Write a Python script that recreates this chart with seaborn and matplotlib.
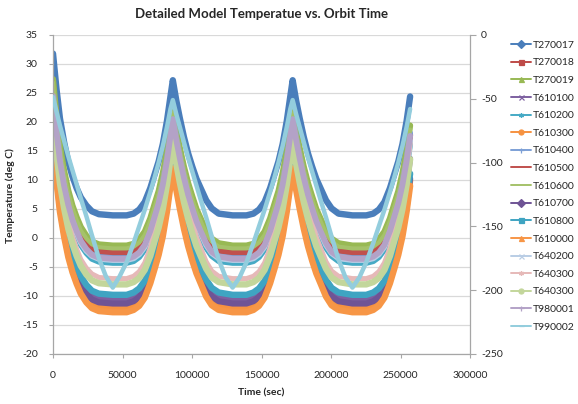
import matplotlib
matplotlib.use("Agg")
import matplotlib.pyplot as plt
from matplotlib.lines import Line2D
import seaborn as sns

# ---------------- data ----------------
time_sec = [0, 2500, 5000, 8000, 11000, 14000, 17000, 20000, 24000, 28000, 33000, 43000, 53000,
            58000, 62000, 66000, 70000, 73000, 76000, 79000, 82000, 84500,
            86200, 88700, 91200, 94200, 97200, 100200, 103200, 106200, 110200, 114200, 119200, 129200, 139200,
            144200, 148200, 152200, 156200, 159200, 162200, 165200, 168200, 170700,
            172400, 174900, 177400, 180400, 183400, 186400, 189400, 192400, 196400, 200400, 205400, 215400, 225400,
            230400, 234400, 238400, 242400, 245400, 248400, 251400, 254400, 256900]

T270017 = [31.8, 25.7, 20.6, 16.5, 13.1, 10.6, 8.6, 7.0, 5.6, 4.6, 4.1, 3.9, 3.9,
           4.2, 4.9, 6.2, 8.6, 10.9, 13.2, 16.2, 20.2, 24.4,
           27.2, 23.7, 20.7, 17.4, 14.6, 12.3, 10.2, 8.6, 6.5, 5.1, 4.2, 3.9, 3.9,
           4.2, 4.9, 6.2, 8.6, 10.9, 13.2, 16.2, 20.2, 24.4,
           27.2, 23.7, 20.7, 17.4, 14.6, 12.3, 10.2, 8.6, 6.5, 5.1, 4.2, 3.9, 3.9,
           4.2, 4.9, 6.2, 8.6, 10.9, 13.2, 16.2, 20.2, 24.4]
T270018 = [26.5, 20.2, 15.0, 10.7, 7.3, 4.7, 2.7, 1.0, -0.5, -1.5, -2.0, -2.2, -2.2,
           -1.9, -1.2, 0.1, 2.3, 4.6, 6.9, 9.8, 13.7, 17.8,
           20.5, 17.1, 14.1, 11.0, 8.2, 6.0, 3.9, 2.3, 0.3, -1.1, -1.9, -2.2, -2.2,
           -1.9, -1.2, 0.1, 2.3, 4.6, 6.9, 9.8, 13.7, 17.8,
           20.5, 17.1, 14.1, 11.0, 8.2, 6.0, 3.9, 2.3, 0.3, -1.1, -1.9, -2.2, -2.2,
           -1.9, -1.2, 0.1, 2.3, 4.6, 6.9, 9.8, 13.7, 17.8]
T270019 = [27.4, 21.1, 15.9, 11.6, 8.2, 5.6, 3.6, 1.9, 0.4, -0.6, -1.1, -1.3, -1.3,
           -1.0, -0.2, 1.1, 3.4, 5.8, 8.1, 11.2, 15.2, 19.4,
           22.2, 18.7, 15.6, 12.3, 9.5, 7.2, 5.0, 3.4, 1.3, -0.1, -0.9, -1.3, -1.3,
           -1.0, -0.2, 1.1, 3.4, 5.8, 8.1, 11.2, 15.2, 19.4,
           22.2, 18.7, 15.6, 12.3, 9.5, 7.2, 5.0, 3.4, 1.3, -0.1, -0.9, -1.3, -1.3,
           -1.0, -0.2, 1.1, 3.4, 5.8, 8.1, 11.2, 15.2, 19.4]
T610100 = [22.0, 14.8, 9.0, 4.1, 0.2, -2.8, -5.1, -7.0, -8.6, -9.8, -10.3, -10.6, -10.6,
           -10.2, -9.4, -7.8, -5.1, -2.3, 0.4, 4.0, 8.7, 13.7,
           17.0, 12.9, 9.3, 5.4, 2.1, -0.7, -3.1, -5.1, -7.6, -9.2, -10.2, -10.6, -10.6,
           -10.2, -9.4, -7.8, -5.1, -2.3, 0.4, 4.0, 8.7, 13.7,
           17.0, 12.9, 9.3, 5.4, 2.1, -0.7, -3.1, -5.1, -7.6, -9.2, -10.2, -10.6, -10.6,
           -10.2, -9.4, -7.8, -5.1, -2.3, 0.4, 4.0, 8.7, 13.7]
T610200 = [24.0, 17.8, 12.7, 8.4, 5.0, 2.5, 0.5, -1.2, -2.6, -3.6, -4.1, -4.3, -4.3,
           -4.0, -3.3, -2.0, 0.4, 2.7, 5.0, 8.0, 12.0, 16.2,
           19.0, 15.5, 12.5, 9.2, 6.4, 4.1, 2.0, 0.4, -1.7, -3.1, -4.0, -4.3, -4.3,
           -4.0, -3.3, -2.0, 0.4, 2.7, 5.0, 8.0, 12.0, 16.2,
           19.0, 15.5, 12.5, 9.2, 6.4, 4.1, 2.0, 0.4, -1.7, -3.1, -4.0, -4.3, -4.3,
           -4.0, -3.3, -2.0, 0.4, 2.7, 5.0, 8.0, 12.0, 16.2]
T610300 = [17.0, 10.6, 5.3, 0.9, -2.6, -5.2, -7.2, -9.0, -10.4, -11.5, -12.0, -12.2, -12.2,
           -11.8, -11.1, -9.7, -7.2, -4.6, -2.1, 1.2, 5.4, 10.0,
           13.0, 9.2, 5.9, 2.4, -0.6, -3.1, -5.4, -7.2, -9.4, -10.9, -11.8, -12.2, -12.2,
           -11.8, -11.1, -9.7, -7.2, -4.6, -2.1, 1.2, 5.4, 10.0,
           13.0, 9.2, 5.9, 2.4, -0.6, -3.1, -5.4, -7.2, -9.4, -10.9, -11.8, -12.2, -12.2,
           -11.8, -11.1, -9.7, -7.2, -4.6, -2.1, 1.2, 5.4, 10.0]
T610400 = [25.2, 19.0, 14.0, 9.7, 6.4, 3.8, 1.9, 0.2, -1.2, -2.2, -2.7, -2.9, -2.9,
           -2.5, -1.8, -0.5, 1.9, 4.3, 6.7, 9.8, 13.8, 18.1,
           21.0, 17.4, 14.3, 11.0, 8.1, 5.7, 3.6, 1.9, -0.3, -1.7, -2.5, -2.9, -2.9,
           -2.5, -1.8, -0.5, 1.9, 4.3, 6.7, 9.8, 13.8, 18.1,
           21.0, 17.4, 14.3, 11.0, 8.1, 5.7, 3.6, 1.9, -0.3, -1.7, -2.5, -2.9, -2.9,
           -2.5, -1.8, -0.5, 1.9, 4.3, 6.7, 9.8, 13.8, 18.1]
T610500 = [25.8, 19.6, 14.4, 10.2, 6.8, 4.2, 2.2, 0.5, -0.9, -1.9, -2.4, -2.6, -2.6,
           -2.3, -1.6, -0.3, 1.9, 4.2, 6.4, 9.4, 13.2, 17.3,
           20.0, 16.6, 13.7, 10.5, 7.8, 5.5, 3.5, 1.9, -0.1, -1.5, -2.3, -2.6, -2.6,
           -2.3, -1.6, -0.3, 1.9, 4.2, 6.4, 9.4, 13.2, 17.3,
           20.0, 16.6, 13.7, 10.5, 7.8, 5.5, 3.5, 1.9, -0.1, -1.5, -2.3, -2.6, -2.6,
           -2.3, -1.6, -0.3, 1.9, 4.2, 6.4, 9.4, 13.2, 17.3]
T610600 = [26.8, 20.5, 15.4, 11.1, 7.6, 5.1, 3.1, 1.3, -0.1, -1.1, -1.6, -1.8, -1.8,
           -1.5, -0.8, 0.5, 2.9, 5.2, 7.5, 10.5, 14.5, 18.7,
           21.5, 18.0, 15.0, 11.7, 8.9, 6.6, 4.5, 2.9, 0.8, -0.6, -1.5, -1.8, -1.8,
           -1.5, -0.8, 0.5, 2.9, 5.2, 7.5, 10.5, 14.5, 18.7,
           21.5, 18.0, 15.0, 11.7, 8.9, 6.6, 4.5, 2.9, 0.8, -0.6, -1.5, -1.8, -1.8,
           -1.5, -0.8, 0.5, 2.9, 5.2, 7.5, 10.5, 14.5, 18.7]
T610700 = [17.3, 11.0, 5.9, 1.6, -1.9, -4.4, -6.4, -8.2, -9.6, -10.6, -11.1, -11.3, -11.3,
           -10.9, -10.2, -8.8, -6.4, -3.9, -1.5, 1.7, 5.9, 10.3,
           13.2, 9.5, 6.3, 2.9, 0.0, -2.5, -4.7, -6.4, -8.6, -10.1, -10.9, -11.3, -11.3,
           -10.9, -10.2, -8.8, -6.4, -3.9, -1.5, 1.7, 5.9, 10.3,
           13.2, 9.5, 6.3, 2.9, 0.0, -2.5, -4.7, -6.4, -8.6, -10.1, -10.9, -11.3, -11.3,
           -10.9, -10.2, -8.8, -6.4, -3.9, -1.5, 1.7, 5.9, 10.3]
T610800 = [19.2, 12.8, 7.6, 3.3, -0.2, -2.8, -4.9, -6.6, -8.1, -9.1, -9.6, -9.8, -9.8,
           -9.4, -8.7, -7.4, -5.0, -2.7, -0.3, 2.8, 6.9, 11.1,
           14.0, 10.4, 7.3, 4.0, 1.1, -1.2, -3.4, -5.0, -7.2, -8.6, -9.4, -9.8, -9.8,
           -9.4, -8.7, -7.4, -5.0, -2.7, -0.3, 2.8, 6.9, 11.1,
           14.0, 10.4, 7.3, 4.0, 1.1, -1.2, -3.4, -5.0, -7.2, -8.6, -9.4, -9.8, -9.8,
           -9.4, -8.7, -7.4, -5.0, -2.7, -0.3, 2.8, 6.9, 11.1]
T610000 = [16.0, 9.7, 4.5, 0.2, -3.3, -5.9, -7.9, -9.6, -11.1, -12.1, -12.6, -12.8, -12.8,
           -12.4, -11.7, -10.3, -7.8, -5.4, -2.9, 0.3, 4.6, 9.0,
           12.0, 8.3, 5.1, 1.6, -1.4, -3.9, -6.1, -7.8, -10.1, -11.6, -12.4, -12.8, -12.8,
           -12.4, -11.7, -10.3, -7.8, -5.4, -2.9, 0.3, 4.6, 9.0,
           12.0, 8.3, 5.1, 1.6, -1.4, -3.9, -6.1, -7.8, -10.1, -11.6, -12.4, -12.8, -12.8,
           -12.4, -11.7, -10.3, -7.8, -5.4, -2.9, 0.3, 4.6, 9.0]
T640200 = [23.5, 17.5, 12.6, 8.5, 5.2, 2.8, 0.8, -0.8, -2.2, -3.1, -3.6, -3.8, -3.8,
           -3.5, -2.8, -1.5, 0.9, 3.2, 5.5, 8.5, 12.5, 16.7,
           19.5, 16.0, 13.0, 9.7, 6.9, 4.6, 2.5, 0.9, -1.2, -2.6, -3.5, -3.8, -3.8,
           -3.5, -2.8, -1.5, 0.9, 3.2, 5.5, 8.5, 12.5, 16.7,
           19.5, 16.0, 13.0, 9.7, 6.9, 4.6, 2.5, 0.9, -1.2, -2.6, -3.5, -3.8, -3.8,
           -3.5, -2.8, -1.5, 0.9, 3.2, 5.5, 8.5, 12.5, 16.7]
T640300_a = [23.0, 16.4, 11.0, 6.5, 2.9, 0.2, -1.9, -3.7, -5.2, -6.2, -6.8, -7.0, -7.0,
             -6.6, -5.8, -4.3, -1.7, 1.0, 3.6, 7.0, 11.6, 16.3,
             19.5, 15.5, 12.1, 8.4, 5.2, 2.5, 0.2, -1.7, -4.1, -5.7, -6.6, -7.0, -7.0,
             -6.6, -5.8, -4.3, -1.7, 1.0, 3.6, 7.0, 11.6, 16.3,
             19.5, 15.5, 12.1, 8.4, 5.2, 2.5, 0.2, -1.7, -4.1, -5.7, -6.6, -7.0, -7.0,
             -6.6, -5.8, -4.3, -1.7, 1.0, 3.6, 7.0, 11.6, 16.3]
T640300_b = [21.0, 14.6, 9.4, 5.1, 1.6, -1.0, -3.1, -4.8, -6.3, -7.3, -7.8, -8.0, -8.0,
             -7.6, -6.9, -5.5, -3.1, -0.6, 1.8, 5.0, 9.2, 13.6,
             16.5, 12.8, 9.6, 6.2, 3.3, 0.8, -1.4, -3.1, -5.3, -6.8, -7.6, -8.0, -8.0,
             -7.6, -6.9, -5.5, -3.1, -0.6, 1.8, 5.0, 9.2, 13.6,
             16.5, 12.8, 9.6, 6.2, 3.3, 0.8, -1.4, -3.1, -5.3, -6.8, -7.6, -8.0, -8.0,
             -7.6, -6.9, -5.5, -3.1, -0.6, 1.8, 5.0, 9.2, 13.6]
T980001 = [24.5, 18.3, 13.3, 9.0, 5.7, 3.1, 1.2, -0.5, -1.9, -2.9, -3.4, -3.6, -3.6,
           -3.2, -2.5, -1.2, 1.2, 3.6, 6.0, 9.2, 13.3, 17.6,
           20.5, 16.9, 13.8, 10.4, 7.5, 5.1, 2.9, 1.2, -0.9, -2.4, -3.2, -3.6, -3.6,
           -3.2, -2.5, -1.2, 1.2, 3.6, 6.0, 9.2, 13.3, 17.6,
           20.5, 16.9, 13.8, 10.4, 7.5, 5.1, 2.9, 1.2, -0.9, -2.4, -3.2, -3.6, -3.6,
           -3.2, -2.5, -1.2, 1.2, 3.6, 6.0, 9.2, 13.3, 17.6]

# secondary (right) axis series, with its own sample times
time_sec_T990002 = [0, 2500, 5000, 8000, 11000, 14000, 17000, 20000, 24000, 28000, 33000, 38000, 43000,
                    48000, 53000, 58000, 62000, 66000, 70000, 73000, 76000, 79000, 82000, 84500,
                    86200, 88700, 91200, 94200, 97200, 100200, 103200, 106200, 110200, 114200, 119200,
                    124200, 129200, 134200, 139200, 144200, 148200, 152200, 156200, 159200, 162200,
                    165200, 168200, 170700,
                    172400, 174900, 177400, 180400, 183400, 186400, 189400, 192400, 196400, 200400,
                    205400, 210400, 215400, 220400, 225400, 230400, 234400, 238400, 242400, 245400,
                    248400, 251400, 254400, 256900]
T990002 = [-48.6, -60, -71, -83, -95, -106, -117, -128, -142, -157, -175, -189, -198,
           -189, -178, -163, -150, -137, -123, -112, -100, -87, -72, -58,
           -51, -62, -72, -84, -96, -107, -118, -129, -143, -158, -176,
           -190, -198, -190, -178, -163, -150, -137, -123, -112, -100,
           -87, -72, -58,
           -51, -62, -72, -84, -96, -107, -118, -129, -143, -158,
           -176, -190, -198, -190, -178, -163, -150, -137, -123, -112,
           -100, -87, -72, -58]

labels = ["T270017", "T270018", "T270019", "T610100", "T610200", "T610300", "T610400",
          "T610500", "T610600", "T610700", "T610800", "T610000", "T640200", "T640300",
          "T640300", "T980001", "T990002"]
primary_series = [T270017, T270018, T270019, T610100, T610200, T610300, T610400, T610500,
                  T610600, T610700, T610800, T610000, T640200, T640300_a, T640300_b, T980001]

y_ticks_left = [-20, -15, -10, -5, 0, 5, 10, 15, 20, 25, 30, 35]
y_ticks_right = [-250, -200, -150, -100, -50, 0]
x_ticks = [0, 50000, 100000, 150000, 200000, 250000, 300000]

# ---------------- style ----------------
colors = ["#4A7EBB", "#BE4B48", "#98B954", "#7D60A0", "#46AAC5", "#F69240", "#7DA0D6",
          "#C0504D", "#A5C26A", "#6F5495", "#3FA4C2", "#F79646", "#B9CDE5", "#E6B9B8",
          "#C3D69B", "#B3A2C7", "#93CDDD"]
markers = ["D", "s", "^", "x", (6, 2, 0), "o", "+", None, None, "D", "s", "^", "x",
           (6, 2, 0), "o", "+", "_"]
widths = [4.6, 4.4, 4.4, 4.2, 4.2, 4.6, 4.2, 3.0, 3.0, 4.4, 4.6, 4.6, 4.2, 3.6, 4.6, 4.2]

sns.set_theme(style="white")
plt.rcParams["font.family"] = ["Lato", "DejaVu Sans"]
TXT = "#262626"
GRID = "#D9D9D9"
AX = "#A6A6A6"

fig = plt.figure(figsize=(5.78, 4.04), dpi=100)
ax = fig.add_axes([0.0917, 0.1238, 0.7215, 0.7896])

for vals, c, w in zip(primary_series, colors, widths):
    sns.lineplot(x=time_sec, y=vals, color=c, linewidth=w, ax=ax, errorbar=None,
                 solid_joinstyle="round", solid_capstyle="round")

ax2 = ax.twinx()
sns.lineplot(x=time_sec_T990002, y=T990002, color=colors[16], linewidth=3.2, ax=ax2,
             errorbar=None, solid_joinstyle="round", solid_capstyle="round")

ax.set_xlim(0, 300000)
ax.set_ylim(-20, 35)
ax2.set_ylim(-250, 0)
ax.set_xticks(x_ticks)
ax.set_xticklabels([str(v) for v in x_ticks])
ax.set_yticks(y_ticks_left)
ax.set_yticklabels([str(v) for v in y_ticks_left])
ax2.set_yticks(y_ticks_right)
ax2.set_yticklabels([str(v) for v in y_ticks_right])
ax.set_xlabel("")
ax.set_ylabel("")
ax2.set_xlabel("")
ax2.set_ylabel("")

ax.yaxis.grid(True, color=GRID, linewidth=0.9)
ax.xaxis.grid(False)
ax.set_axisbelow(True)
for s in ["top", "right"]:
    ax.spines[s].set_visible(False)
for s in ["left", "bottom"]:
    ax.spines[s].set_color(AX)
    ax.spines[s].set_linewidth(0.9)
for s in ["top", "left", "bottom"]:
    ax2.spines[s].set_visible(False)
ax2.spines["right"].set_color(AX)
ax2.spines["right"].set_linewidth(0.9)

ax.tick_params(axis="y", which="both", length=3, width=0.8, color=AX, pad=8,
               labelsize=7.5, labelcolor=TXT, left=True)
ax.tick_params(axis="x", which="both", length=3, width=0.8, color=AX, pad=9,
               labelsize=7.5, labelcolor=TXT, bottom=True)
ax2.tick_params(axis="y", which="both", length=4, width=0.8, color=AX, pad=4,
                labelsize=7.5, labelcolor=TXT, right=True)

fig.text(0.4516, 0.965, "Detailed Model Temperatue vs. Orbit Time", ha="center", va="center",
         fontsize=9.5, fontweight="bold", color=TXT)
fig.text(0.452, 1 - 393 / 404, "Time (sec)", ha="center", va="center",
         fontsize=7.5, fontweight="bold", color=TXT)
fig.text(0.018, 0.517, "Temperature (deg C)", ha="center", va="center", rotation=90,
         fontsize=7.5, fontweight="bold", color=TXT)

handles = []
for c, m in zip(colors, markers):
    if m is None:
        handles.append(Line2D([0], [0], color=c, lw=1.4))
    else:
        handles.append(Line2D([0], [0], color=c, lw=1.4, marker=m, markersize=3.6,
                              markerfacecolor=c, markeredgecolor=c, markeredgewidth=0.9))
fig.legend(handles, labels, loc="upper left", bbox_to_anchor=(0.884, 0.900),
           frameon=False, fontsize=7.5, handlelength=1.9, handletextpad=0.15,
           labelspacing=0.8, borderpad=0, borderaxespad=0, labelcolor=TXT)

fig.savefig("out.png", dpi=100, facecolor="white")
